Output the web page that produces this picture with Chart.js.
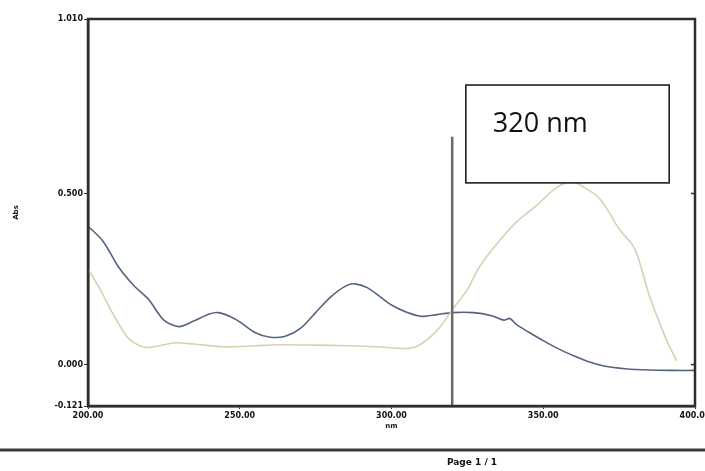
<!DOCTYPE html>
<html>
<head>
<meta charset="utf-8">
<script src="https://cdn.jsdelivr.net/npm/chart.js@4"></script>
<style>
  html, body { margin: 0; padding: 0; background: #fff; }
  #wrap { width: 705px; height: 471px; position: relative; }
</style>
</head>
<body>
<div id="wrap"><canvas id="grafico"></canvas></div>
<script>
// espectro 1 (azul)
const nmAzul = [200, 205, 210, 215, 220, 225, 230, 235, 240, 243, 247, 250, 255, 260, 265, 270, 275, 280, 285, 288, 292, 296, 300, 305, 310, 315, 320, 327, 333, 337, 339, 341, 345, 350, 355, 360, 365, 370, 377, 385, 393, 400];
const absAzul = [0.405, 0.36, 0.286, 0.232, 0.19, 0.13, 0.111, 0.128, 0.148, 0.152, 0.14, 0.125, 0.094, 0.08, 0.083, 0.106, 0.152, 0.198, 0.23, 0.236, 0.225, 0.2, 0.174, 0.153, 0.141, 0.146, 0.152, 0.152, 0.143, 0.13, 0.135, 0.118, 0.096, 0.07, 0.046, 0.026, 0.008, -0.004, -0.012, -0.016, -0.017, -0.017];

// espectro 2 (amarillo)
const nmAmarillo = [200, 204, 208, 213, 217, 220, 225, 229, 235, 245, 255, 263, 275, 285, 295, 304, 308, 312, 316, 320, 325, 329, 335, 341, 348, 354, 358, 361, 364, 368, 371, 374, 376, 379, 381, 385, 388, 391, 394];
const absAmarillo = [0.28, 0.22, 0.152, 0.08, 0.055, 0.05, 0.058, 0.064, 0.06, 0.052, 0.055, 0.058, 0.057, 0.055, 0.052, 0.047, 0.052, 0.075, 0.11, 0.16, 0.219, 0.286, 0.356, 0.415, 0.467, 0.515, 0.532, 0.53, 0.515, 0.49, 0.455, 0.41, 0.385, 0.355, 0.32, 0.2, 0.13, 0.064, 0.01];

// marcador vertical a 320 nm
const marcadorNm = [320, 320];
const marcadorAbs = [-0.121, 0.666];

const yTicks = [-0.121, 0.0, 0.5, 1.010];
const xTicks = [200, 250, 300, 350, 400];
const etiquetaCaja = "320 nm";
const cajaNm = [324.5, 391.5];
const cajaAbs = [0.531, 0.817];
const pieTexto = "Page 1 / 1";

const aPuntos = (xs, ys) => xs.map((x, i) => ({ x: x, y: ys[i] }));

const fuenteEjes = { family: "DejaVu Sans", size: 8, weight: "bold" };

const marcoPlugin = {
  id: "marco",
  afterDatasetsDraw(chart) {
    const { ctx, chartArea: a, scales } = chart;
    ctx.save();
    // marco del grafico
    ctx.strokeStyle = "#2e2e2e";
    ctx.lineWidth = 2.5;
    ctx.strokeRect(a.left, a.top, a.right - a.left, a.bottom - a.top);
    // marcas a la derecha
    ctx.lineWidth = 1.5;
    yTicks.forEach((v) => {
      const py = scales.y.getPixelForValue(v);
      ctx.beginPath();
      ctx.moveTo(a.right - 4, py);
      ctx.lineTo(a.right, py);
      ctx.stroke();
    });
    // caja de texto
    const x0 = scales.x.getPixelForValue(cajaNm[0]);
    const x1 = scales.x.getPixelForValue(cajaNm[1]);
    const y0 = scales.y.getPixelForValue(cajaAbs[1]);
    const y1 = scales.y.getPixelForValue(cajaAbs[0]);
    ctx.fillStyle = "#fff";
    ctx.fillRect(x0, y0, x1 - x0, y1 - y0);
    ctx.strokeStyle = "#111";
    ctx.lineWidth = 1.5;
    ctx.strokeRect(x0, y0, x1 - x0, y1 - y0);
    ctx.fillStyle = "#111";
    ctx.font = "27px 'Open Sans'";
    ctx.textAlign = "left";
    ctx.textBaseline = "middle";
    ctx.fillText(etiquetaCaja, x0 + 27, (y0 + y1) / 2 - 10);
    ctx.restore();
  },
  afterDraw(chart) {
    const { ctx, width } = chart;
    ctx.save();
    ctx.strokeStyle = "#3a3a3a";
    ctx.lineWidth = 3;
    ctx.beginPath();
    ctx.moveTo(0, 450);
    ctx.lineTo(width, 450);
    ctx.stroke();
    ctx.fillStyle = "#111";
    ctx.font = "bold 9px 'DejaVu Sans'";
    ctx.textAlign = "center";
    ctx.textBaseline = "middle";
    ctx.fillText(pieTexto, 472, 463);
    ctx.restore();
  },
};

const canvas = document.getElementById("grafico");

new Chart(canvas, {
  type: "scatter",
  data: {
    datasets: [
      {
        label: "marcador",
        data: aPuntos(marcadorNm, marcadorAbs),
        showLine: true,
        borderColor: "#6a6a6a",
        borderWidth: 2.5,
        pointRadius: 0,
      },
      {
        label: "amarillo",
        data: aPuntos(nmAmarillo, absAmarillo),
        showLine: true,
        borderColor: "#d6d2b0",
        borderWidth: 1.6,
        pointRadius: 0,
        tension: 0.3,
      },
      {
        label: "azul",
        data: aPuntos(nmAzul, absAzul),
        showLine: true,
        borderColor: "#55637f",
        borderWidth: 1.6,
        pointRadius: 0,
        tension: 0.3,
      },
    ],
  },
  options: {
    responsive: true,
    maintainAspectRatio: false,
    animation: false,
    layout: { padding: { top: 19, right: 10, left: 0, bottom: 0 } },
    plugins: { legend: { display: false }, tooltip: { enabled: false } },
    scales: {
      x: {
        type: "linear",
        min: 200,
        max: 400,
        afterBuildTicks: (axis) => { axis.ticks = xTicks.map((v) => ({ value: v })); },
        afterFit: (scale) => { scale.height = 65; scale.paddingLeft = 0; scale.paddingRight = 0; },
        ticks: {
          color: "#111",
          font: fuenteEjes,
          padding: 2,
          maxRotation: 0,
          autoSkip: false,
          callback: (v) => Number(v).toFixed(2),
        },
        grid: { display: true, drawOnChartArea: false, tickLength: 3, color: "#333" },
        border: { color: "#2e2e2e", width: 2.5 },
        title: { display: true, text: "nm", color: "#111", font: { family: "DejaVu Sans", size: 7, weight: "bold" }, padding: { top: 0, bottom: 41 } },
      },
      y: {
        type: "linear",
        min: -0.121,
        max: 1.010,
        afterBuildTicks: (axis) => { axis.ticks = yTicks.map((v) => ({ value: v })); },
        afterFit: (scale) => { scale.width = 88; },
        ticks: {
          color: "#111",
          font: fuenteEjes,
          padding: 1,
          autoSkip: false,
          callback: (v) => Number(v).toFixed(3),
        },
        grid: { display: true, drawOnChartArea: false, tickLength: 4, color: "#333" },
        border: { color: "#2e2e2e", width: 2.5 },
        title: { display: true, text: "Abs", color: "#111", font: { family: "DejaVu Sans", size: 7, weight: "bold" }, padding: { top: 12, bottom: 0 } },
      },
    },
  },
  plugins: [marcoPlugin],
});
</script>
</body>
</html>
